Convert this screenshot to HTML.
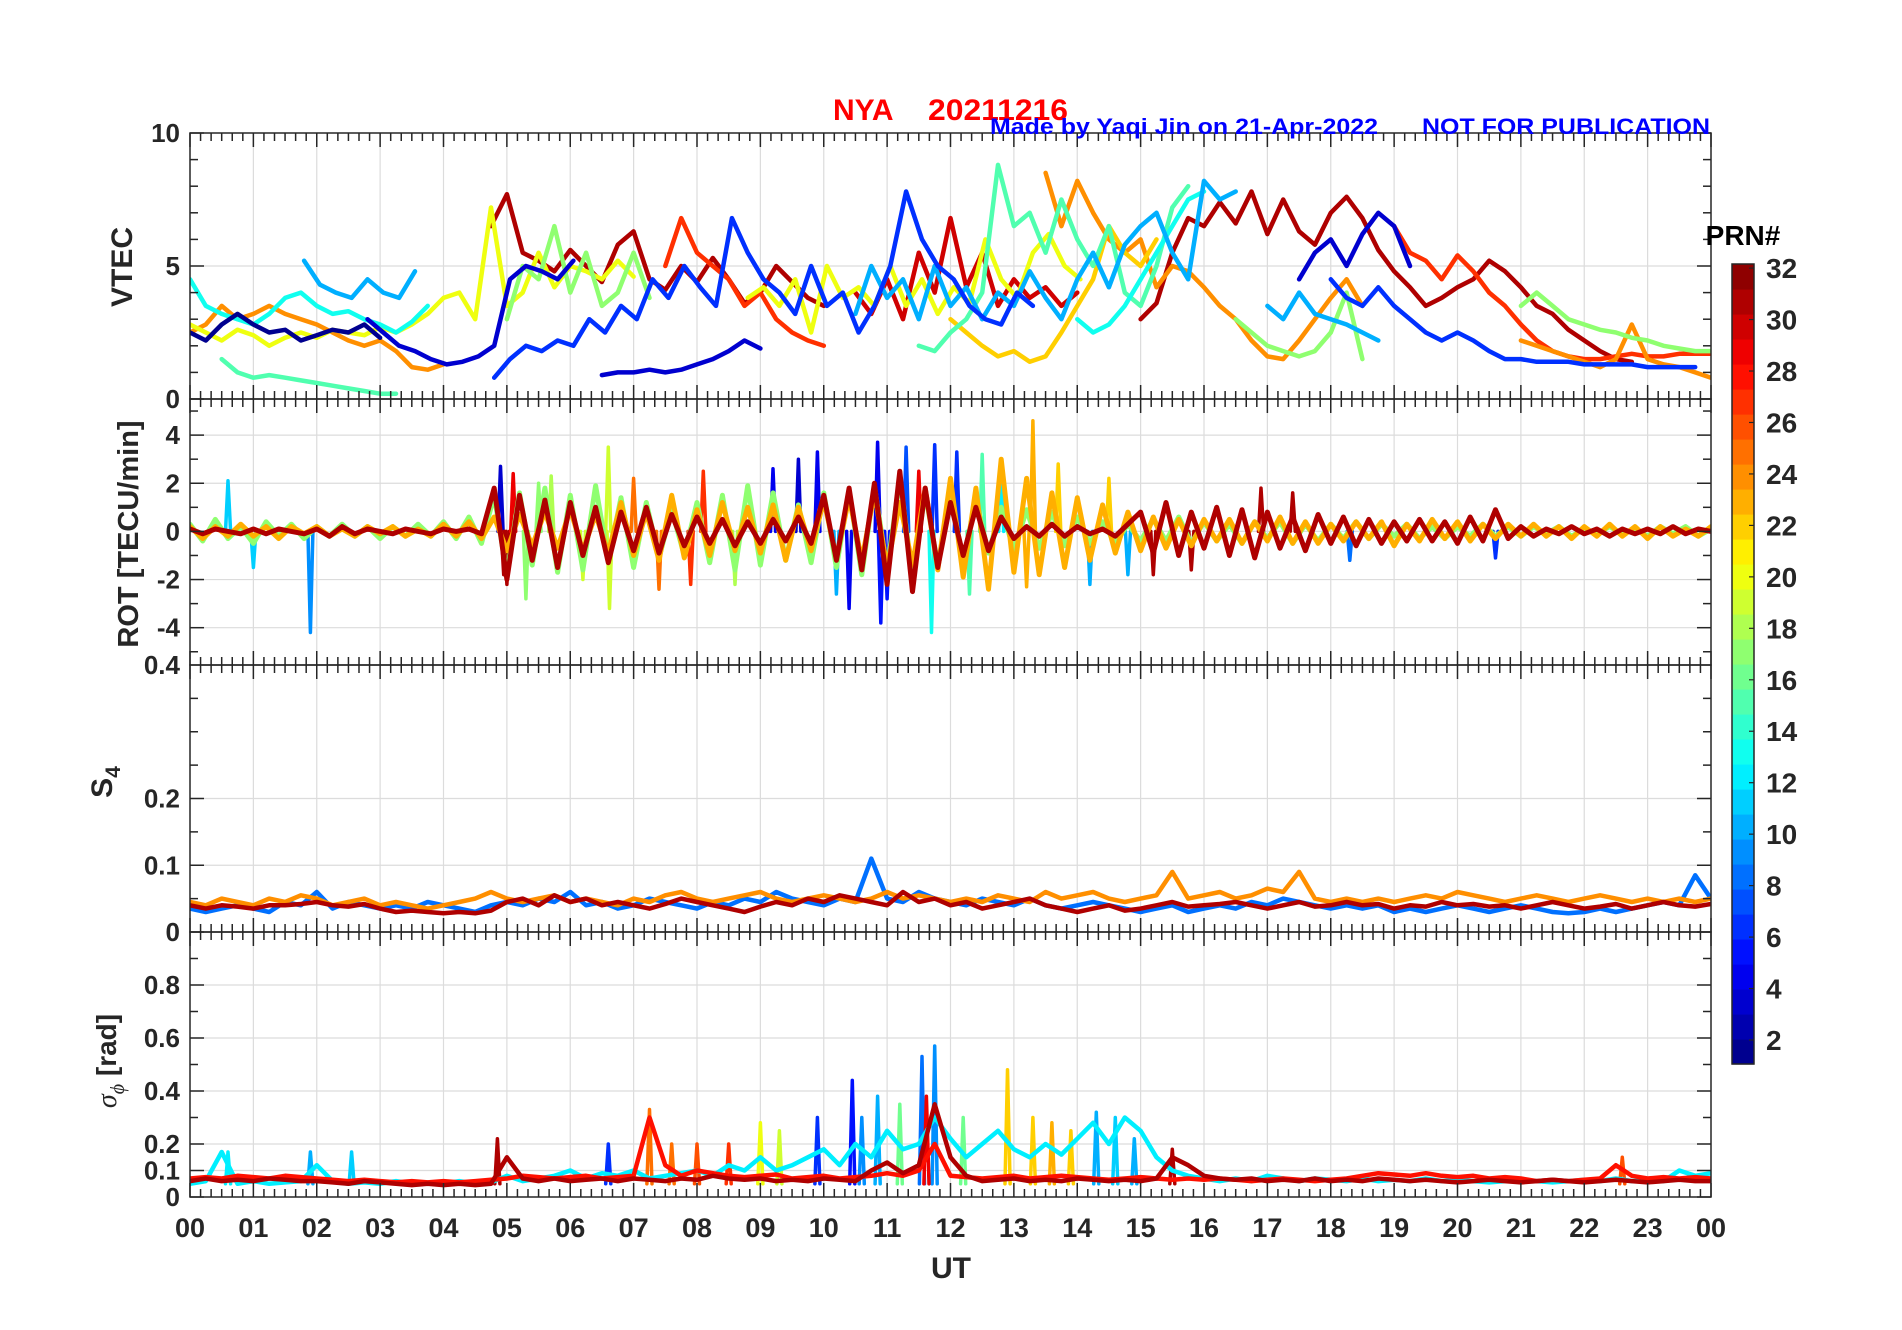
<!DOCTYPE html>
<html><head><meta charset="utf-8"><style>
html,body{margin:0;padding:0;background:#fff;}
svg{display:block;font-family:"Liberation Sans",Arial,sans-serif;}
</style></head><body>
<svg id="fig" width="1902" height="1330" xmlns="http://www.w3.org/2000/svg"></svg>
<script>
// ---------- data ----------
const hourLabels=["00","01","02","03","04","05","06","07","08","09","10","11","12","13","14","15","16","17","18","19","20","21","22","23","00"];
const vtecPrn=[31,31,30,27,27,24,24,24,22,20,20,17,17,17,15,15,13,13,10,10,10,6,6,3,3,3,1];
const vtecStart=[4.75,15.0,10.5,7.5,19.0,0,13.5,21.0,12.0,0,8.8,5.0,16.5,21.0,11.5,0.5,0,14.0,1.8,10.5,17.0,4.8,18.0,2.8,6.5,17.5,0];
const vtecVals=[
[6.5,7.7,5.5,5.2,4.8,5.6,5,4.4,5.8,6.3,4.5,4.1,5,4.4,5.3,4.5,3.6,4,5,4.4,3.8,3.5],
[3,3.6,5.5,6.8,6.5,7.4,6.6,7.8,6.2,7.5,6.3,5.8,7,7.6,6.8,5.6,4.8,4.2,3.5,3.8,4.2,4.5,5.2,4.8,4.2,3.5,3.2,2.6,2.2,1.8,1.5,1.4],
[4,3.2,4.5,3,5.5,4,6.8,4.2,5.5,3.5,4.5,3.8,4.2,3.5,4],
[5,6.8,5.5,5,4.5,3.5,4,3,2.5,2.2,2],
[6.5,5.5,5.2,4.5,5.4,4.8,4,3.5,2.8,2.2,1.8,1.6,1.5,1.5,1.6,1.7,1.6,1.6,1.7,1.7,1.7],
[2.5,2.8,3.5,3,3.2,3.5,3.2,3,2.8,2.5,2.2,2,2.2,1.8,1.2,1.1,1.3],
[8.5,6.5,8.2,7,6,5.5,6,4.2,5,4.8,4.2,3.5,3,2.2,1.6,1.5,2.2,3,3.8,4.5,3.5],
[2.2,2,1.8,1.6,1.4,1.2,1.5,2.8,1.5,1.3,1.2,1,0.8,0.7],
[3,2.5,2,1.6,1.8,1.4,1.6,2.5,3.5,4.5,6.5,5.5,5,6],
[2.8,2.5,2.2,2.6,2.4,2,2.3,2.5,2.3,2.6,2.5,2.4,2.7,2.5,2.8,3.2,3.8,4,3,7.2,3.5,4,5.5,4.2,5,4.8,4.5,5.2,4.6],
[3.8,4.2,3.5,4.5,2.5,5,3.8,4.2,3.5,5,3.5,4.5,3.2,4.2,3.6,6,4.5,3.8,5.5,6.2,5,4.5],
[3,5,4.5,6.5,4,5.5,3.5,4,5.5,3.8],
[3,2.5,2,1.8,1.6,1.8,2.5,4,1.5],
[3.5,4,3.5,3,2.8,2.6,2.5,2.3,2.2,2,1.9,1.8,1.8,2,2.3,2.8],
[2,1.8,2.5,3,4,8.8,6.5,7,5.5,7.5,6,5,6.5,4,3.5,5,7.2,8],
[1.5,1,0.8,0.9,0.8,0.7,0.6,0.5,0.4,0.3,0.2,0.2],
[4.5,3.5,3.2,3,2.8,3.2,3.8,4,3.5,3.2,3.3,3,2.8,2.5,2.9,3.5],
[3,2.5,2.8,3.5,4.5,5.5,6.5,7.5,7.8],
[5.2,4.3,4,3.8,4.5,4,3.8,4.8],
[3.2,5,3.8,4.5,3,5,3.5,4.2,3,4,3.5,4.8,3.8,3,4.5,5.5,4.2,5.8,6.5,7,5.5,4.5,8.2,7.5,7.8],
[3.5,3,4,3.2,3,2.8,2.5,2.2],
[0.8,1.5,2,1.8,2.2,2,3,2.5,3.5,3,4.5,3.8,5,4.2,3.5,6.8,5.5,4.5,4,3.2,5,3.5,4,2.5,3.5,5,7.8,6,5,4.5,3.5,3,2.8,4,3.5],
[4.5,3.8,3.5,4.2,3.5,3,2.5,2.2,2.5,2.2,1.8,1.5,1.5,1.4,1.4,1.4,1.3,1.3,1.3,1.3,1.2,1.2,1.2,1.2],
[3,2.5,2,1.8,1.5,1.3,1.4,1.6,2,4.5,5,4.8,4.5,5.2],
[0.9,1,1,1.1,1,1.1,1.3,1.5,1.8,2.2,1.9],
[4.5,5.5,6,5,6.2,7,6.5,5],
[2.5,2.2,2.8,3.2,2.8,2.5,2.6,2.2,2.4,2.6,2.5,2.8,2.3]];
const vtecStep=0.25;

const rotPrn=[17,23,31];
const rotStep=0.2;
const rotVals=[
[0.3,-0.4,0.5,-0.3,0.2,-0.5,0.4,-0.2,0.3,-0.3,0.2,-0.2,0.3,-0.2,0.2,-0.3,0.2,-0.2,0.3,-0.2,0.4,-0.3,0.6,-0.5,1.5,-1.8,1.6,-1.4,1.8,-1.7,1.5,-1.6,1.9,-1.2,1.4,-1.5,1.2,-1.1,0.9,-1,1.2,-1.3,1.5,-1.6,1.9,-1.4,1.6,-1.2,1.1,-1.3,1.6,-1.5,1.7,-1.8,1.9,-1.6,2.2,-1.9,1.6,-1.4,1.5,-1.2,1.3,-0.9,1,-0.8,0.9,-0.7,0.8,-0.6,0.6,-0.5,0.4,-0.5,0.3,-0.4,0.5,-0.4,0.6,-0.5,0.4,-0.4,0.3,-0.5,0.4,-0.3,0.4,-0.5,0.3,-0.4,0.3,-0.3,0.4,-0.3,0.3,-0.2,0.3,-0.3,0.2,-0.3,0.2,-0.2,0.3,-0.2,0.2,-0.2,0.2,-0.1,0.2,-0.2,0.1,-0.1,0.2,-0.1,0.1,-0.2,0.2,-0.1,0.2,-0.2,0.1],
[0.2,-0.3,0.2,-0.2,0.3,-0.2,0.2,-0.3,0.2,-0.1,0.2,-0.2,0.1,-0.2,0.2,-0.1,0.2,-0.2,0.1,-0.2,0.3,-0.2,0.4,-0.3,0.6,-0.8,0.7,-0.6,0.8,-0.7,0.9,-0.8,0.7,-0.9,1.2,-1,0.8,-1.2,1.5,-1.1,0.9,-1,1.2,-0.8,1,-0.9,1.1,-1.2,1,-0.8,1.3,-1.1,1.4,-1.2,1.6,-1.5,1.2,-1.4,1.8,-1.6,2.2,-1.9,1.8,-2.4,3,-1.7,2.2,-1.8,1.6,-1.5,1.4,-1.2,1.1,-0.9,0.8,-0.8,0.6,-0.7,0.5,-0.6,0.5,-0.4,0.5,-0.5,0.4,-0.4,0.6,-0.5,0.4,-0.5,0.3,-0.4,0.4,-0.3,0.4,-0.6,0.3,-0.4,0.5,-0.3,0.4,-0.4,0.3,-0.3,0.3,-0.2,0.3,-0.2,0.2,-0.3,0.2,-0.2,0.3,-0.2,0.2,-0.3,0.2,-0.2,0.1,-0.2,0.2],
[0.1,-0.1,0.1,0,-0.1,0.1,-0.1,0.1,0,-0.1,0.1,-0.2,0.2,-0.1,0.1,0,-0.1,0.1,0,-0.1,0.1,0,0.1,-0.1,1.8,-2,1.5,-1.2,1.3,-1.5,1.2,-1,1,-1.3,0.8,-0.8,1,-0.9,0.7,-0.6,0.6,-0.5,0.5,-0.6,0.4,-0.5,0.5,-0.4,0.6,-0.5,1.5,-1.2,1.8,-1.6,2,-2.2,2.5,-2.5,1.8,-1.5,1.2,-1,1,-0.8,0.6,-0.3,0.2,-0.2,0.3,-0.2,0.2,-0.1,0.1,-0.2,0.3,0.8,-0.9,1.2,-1,0.8,-0.7,1,-1,0.9,-1.1,0.8,-0.7,0.6,-0.8,0.7,-0.5,0.6,-0.6,0.5,-0.5,0.4,-0.4,0.5,-0.4,0.4,-0.5,0.6,-0.4,0.9,-0.3,0.2,-0.2,0.1,-0.1,0.2,-0.1,0.1,-0.2,0.1,-0.1,0.1,-0.1,0.2,-0.1,0.1,0]];
const rotSpikeT=[1.9,4.9,10.85,10.9,11.7,11.75,13.3,12.1,9.9,6.6,6.62,7.4,5.3,10.4,12.5,8.1,14.2,14.8,13.2,9.6,10.2,11.3,12.8,7.9,0.6,1.0,5.7,15.8,16.9,20.6,5.0,5.5,6.2,7.0,8.6,9.2,11.0,11.5,12.3,13.7,14.5,15.2,17.4,18.3,4.95,5.1];
const rotSpikeV=[-4.2,2.7,3.7,-3.8,-4.2,3.6,4.6,3.3,3.3,3.5,-3.2,-2.4,-2.8,-3.2,3.2,2.5,-2.2,-1.8,-2.3,3,-2.6,3.5,2.8,-2.2,2.1,-1.5,2.3,-1.6,1.8,-1.1,-2.2,2,-2,2.2,-2.2,2.6,-2.8,2.5,-2.6,2.8,2.2,-1.8,1.6,-1.2,-1.8,2.4];
const rotSpikePrn=[9,3,4,5,13,6,23,6,4,19,19,25,17,4,15,27,10,10,23,3,10,7,12,27,11,11,18,31,31,6,31,17,19,25,18,4,5,29,15,22,22,31,31,8,31,29];

const s4Prn=[31,24,8];
const s4Step=0.25;
const s4Vals=[
[0.04,0.035,0.04,0.038,0.035,0.04,0.04,0.042,0.045,0.04,0.038,0.042,0.035,0.03,0.032,0.03,0.028,0.03,0.028,0.032,0.045,0.05,0.04,0.055,0.045,0.05,0.04,0.045,0.04,0.035,0.042,0.05,0.045,0.04,0.035,0.03,0.038,0.045,0.04,0.05,0.045,0.055,0.05,0.045,0.04,0.06,0.045,0.05,0.04,0.045,0.035,0.04,0.045,0.05,0.04,0.035,0.03,0.035,0.04,0.032,0.035,0.04,0.045,0.038,0.04,0.042,0.045,0.04,0.035,0.04,0.045,0.038,0.04,0.045,0.04,0.042,0.035,0.04,0.038,0.045,0.04,0.042,0.038,0.04,0.035,0.04,0.045,0.04,0.035,0.038,0.042,0.035,0.04,0.045,0.04,0.038,0.042],
[0.045,0.04,0.05,0.045,0.04,0.05,0.045,0.055,0.05,0.04,0.045,0.05,0.04,0.045,0.04,0.035,0.04,0.045,0.05,0.06,0.05,0.045,0.05,0.055,0.045,0.05,0.045,0.04,0.05,0.045,0.055,0.06,0.05,0.045,0.05,0.055,0.06,0.05,0.045,0.05,0.055,0.05,0.045,0.05,0.06,0.05,0.055,0.05,0.045,0.05,0.045,0.055,0.05,0.045,0.06,0.05,0.055,0.06,0.05,0.045,0.05,0.055,0.09,0.05,0.055,0.06,0.05,0.055,0.065,0.06,0.09,0.05,0.045,0.05,0.045,0.05,0.045,0.05,0.055,0.05,0.06,0.055,0.05,0.045,0.05,0.055,0.05,0.045,0.05,0.055,0.05,0.045,0.05,0.045,0.05,0.045,0.05],
[0.035,0.03,0.035,0.04,0.035,0.03,0.045,0.04,0.06,0.035,0.045,0.04,0.035,0.04,0.035,0.045,0.04,0.035,0.03,0.04,0.045,0.04,0.05,0.045,0.06,0.04,0.045,0.035,0.04,0.05,0.045,0.04,0.035,0.045,0.04,0.05,0.045,0.06,0.05,0.045,0.04,0.05,0.045,0.11,0.05,0.045,0.06,0.05,0.045,0.04,0.05,0.045,0.04,0.05,0.04,0.035,0.04,0.045,0.04,0.035,0.03,0.035,0.04,0.03,0.035,0.04,0.035,0.045,0.04,0.05,0.045,0.04,0.035,0.04,0.035,0.04,0.03,0.035,0.03,0.035,0.04,0.035,0.03,0.035,0.04,0.035,0.03,0.028,0.03,0.035,0.03,0.035,0.04,0.045,0.04,0.085,0.05]];

const sigPrn=[31,28,12];
const sigStep=0.25;
const sigVals=[
[0.06,0.07,0.06,0.065,0.06,0.07,0.065,0.06,0.06,0.055,0.05,0.06,0.055,0.05,0.045,0.05,0.045,0.05,0.045,0.05,0.15,0.07,0.06,0.07,0.06,0.065,0.07,0.06,0.07,0.065,0.06,0.07,0.065,0.08,0.07,0.065,0.07,0.06,0.065,0.06,0.07,0.065,0.06,0.1,0.13,0.09,0.12,0.35,0.15,0.08,0.06,0.065,0.07,0.06,0.065,0.06,0.07,0.065,0.06,0.065,0.06,0.07,0.15,0.12,0.08,0.07,0.065,0.07,0.06,0.065,0.06,0.07,0.06,0.065,0.06,0.07,0.065,0.06,0.065,0.06,0.055,0.06,0.065,0.06,0.055,0.06,0.065,0.06,0.055,0.06,0.065,0.06,0.055,0.06,0.065,0.06,0.06],
[0.07,0.075,0.07,0.08,0.075,0.07,0.08,0.075,0.07,0.065,0.06,0.065,0.06,0.055,0.06,0.055,0.06,0.055,0.06,0.065,0.07,0.08,0.075,0.07,0.075,0.08,0.07,0.075,0.08,0.3,0.12,0.08,0.1,0.09,0.08,0.075,0.08,0.085,0.07,0.075,0.08,0.07,0.075,0.08,0.09,0.08,0.1,0.2,0.08,0.075,0.07,0.075,0.08,0.07,0.075,0.08,0.075,0.07,0.065,0.07,0.075,0.07,0.065,0.07,0.065,0.07,0.065,0.06,0.065,0.07,0.065,0.06,0.065,0.07,0.08,0.09,0.085,0.08,0.09,0.08,0.075,0.08,0.07,0.075,0.07,0.06,0.065,0.06,0.065,0.07,0.12,0.08,0.07,0.075,0.07,0.075,0.07],
[0.05,0.06,0.17,0.05,0.06,0.05,0.055,0.06,0.12,0.06,0.05,0.055,0.05,0.06,0.05,0.055,0.05,0.06,0.05,0.055,0.08,0.06,0.07,0.08,0.1,0.07,0.09,0.08,0.1,0.07,0.08,0.09,0.1,0.08,0.12,0.1,0.15,0.1,0.12,0.15,0.18,0.12,0.2,0.15,0.25,0.18,0.2,0.3,0.22,0.15,0.2,0.25,0.18,0.15,0.2,0.16,0.22,0.28,0.2,0.3,0.25,0.15,0.1,0.08,0.07,0.06,0.07,0.06,0.08,0.07,0.06,0.07,0.065,0.06,0.07,0.06,0.065,0.06,0.07,0.06,0.065,0.06,0.055,0.06,0.065,0.06,0.055,0.06,0.065,0.06,0.07,0.06,0.065,0.06,0.1,0.08,0.09]];
const sigSpikeT=[10.45,11.55,11.75,12.9,7.25,11.62,4.85,10.85,13.3,14.3,14.6,9.0,9.9,12.2,8.5,1.9,2.55,22.6,0.6,7.6,13.6,15.5,11.2,9.3,13.9,14.9,10.6,8.0,6.6];
const sigSpikeV=[0.44,0.53,0.57,0.48,0.33,0.38,0.22,0.38,0.3,0.32,0.3,0.28,0.3,0.3,0.2,0.17,0.17,0.15,0.17,0.2,0.28,0.18,0.35,0.25,0.25,0.22,0.3,0.2,0.2];
const sigSpikePrn=[5,8,9,22,25,29,31,10,22,10,11,20,6,16,27,10,11,26,12,25,23,31,16,19,22,10,9,26,6];

// ---------- layout ----------
const NS="http://www.w3.org/2000/svg";
const svg=document.getElementById('fig');
const L=190,R=1711;
const panels=[
 {name:'vtec',top:133,bot:399,min:0,max:10,ticks:[0,5,10],labels:["0","5","10"],minor:[1,2,3,4,6,7,8,9]},
 {name:'rot',top:399,bot:665,min:-5.55,max:5.5,ticks:[-4,-2,0,2,4],labels:["-4","-2","0","2","4"],minor:[-5,-3,-1,1,3,5]},
 {name:'s4',top:665,bot:932,min:0,max:0.4,ticks:[0,0.1,0.2],labels:["0","0.1","0.2"],minor:[0.05,0.15,0.25,0.3,0.35]},
 {name:'sigma',top:932,bot:1197,min:0,max:1,ticks:[0,0.1,0.2,0.4,0.6,0.8],labels:["0","0.1","0.2","0.4","0.6","0.8"],minor:[0.3,0.5,0.7,0.9]}];
function xs(t){return L+(R-L)*t/24;}
function ys(p,v){return p.bot-(p.bot-p.top)*(v-p.min)/(p.max-p.min);}
function jet(prn){
  const v=(prn-0.5)/32;
  const r=Math.min(1,Math.max(0,1.5-Math.abs(4*v-3)));
  const g=Math.min(1,Math.max(0,1.5-Math.abs(4*v-2)));
  const b=Math.min(1,Math.max(0,1.5-Math.abs(4*v-1)));
  return `rgb(${Math.round(r*255)},${Math.round(g*255)},${Math.round(b*255)})`;
}
function el(tag,attrs,parent){const e=document.createElementNS(NS,tag);for(const k in attrs)e.setAttribute(k,attrs[k]);(parent||svg).appendChild(e);return e;}
function txt(x,y,s,attrs,parent){const e=el('text',Object.assign({x:x,y:y,'font-weight':'bold','fill':'#262626'},attrs||{}),parent);e.textContent=s;return e;}

panels.forEach(p=>{
  const g=el('g',{});
  
  
  for(let h=1;h<24;h++) el('line',{x1:xs(h),x2:xs(h),y1:p.top,y2:p.bot,stroke:'#dcdcdc','stroke-width':1.2},g);
  p.ticks.forEach(v=>{const y=ys(p,v); if(y>p.top+1&&y<p.bot-1) el('line',{x1:L,x2:R,y1:y,y2:y,stroke:'#dcdcdc','stroke-width':1.2},g);});
});

function poly(pts,color,w,parent){
  return el('polyline',{points:pts.map(q=>q[0].toFixed(1)+','+q[1].toFixed(1)).join(' '),fill:'none',stroke:color,'stroke-width':w,'stroke-linejoin':'round','stroke-linecap':'round'},parent);
}
const defs=el('defs',{});
panels.forEach((p,i)=>{const c=el('clipPath',{id:'clip'+i},defs);el('rect',{x:L,y:p.top,width:R-L,height:p.bot-p.top},c);});

const gV=el('g',{'clip-path':'url(#clip0)'});


vtecVals.forEach((vals,i)=>{
  const p=panels[0];
  const line=poly(vals.map((v,j)=>[xs(vtecStart[i]+j*vtecStep),ys(p,v)]),jet(vtecPrn[i]),4.5,gV);
  
  
});
const gR=el('g',{'clip-path':'url(#clip1)'});


function spikes(p,T,V,P,g,w){
  T.forEach((t,i)=>{
    const base=p.min<0?0:0.05;
    const s=poly([[xs(t-0.04),ys(p,base)],[xs(t),ys(p,V[i])],[xs(t+0.04),ys(p,base)]],jet(P[i]),w,g);
    
    
  });
}
spikes(panels[1],rotSpikeT,rotSpikeV,rotSpikePrn,gR,3.5);
rotVals.forEach((vals,i)=>{
  const line=poly(vals.map((v,j)=>[xs(j*rotStep),ys(panels[1],v)]),jet(rotPrn[i]),5,gR);
  
  
});
const gS=el('g',{'clip-path':'url(#clip2)'});


[2,1,0].forEach(i=>{
  const line=poly(s4Vals[i].map((v,j)=>[xs(j*s4Step),ys(panels[2],v)]),jet(s4Prn[i]),4.5,gS);
  
  
});
const gP=el('g',{'clip-path':'url(#clip3)'});


spikes(panels[3],sigSpikeT,sigSpikeV,sigSpikePrn,gP,3.5);
[2,1,0].forEach(i=>{
  const line=poly(sigVals[i].map((v,j)=>[xs(j*sigStep),ys(panels[3],v)]),jet(sigPrn[i]),4.5,gP);
  
  
});

panels.forEach((p,pi)=>{
  const g=el('g',{});
  
  
  el('rect',{x:L,y:p.top,width:R-L,height:p.bot-p.top,fill:'none',stroke:'#262626','stroke-width':1.5},g);
  for(let k=0;k<=144;k++){
    const x=xs(k/6), len=(k%6===0)?14:8;
    el('line',{x1:x,x2:x,y1:p.bot,y2:p.bot-len,stroke:'#262626','stroke-width':1.5},g);
    el('line',{x1:x,x2:x,y1:p.top,y2:p.top+len,stroke:'#262626','stroke-width':1.5},g);
  }
  p.ticks.concat(p.minor).forEach((v,k)=>{
    const y=ys(p,v), len=k<p.ticks.length?14:8;
    el('line',{x1:L,x2:L+len,y1:y,y2:y,stroke:'#262626','stroke-width':1.5},g);
    el('line',{x1:R,x2:R-len,y1:y,y2:y,stroke:'#262626','stroke-width':1.5},g);
  });
  p.ticks.forEach((v,k)=>{
    const t=txt(L-10,ys(p,v)+9,p.labels[k],{'text-anchor':'end','font-size':26},g);
    
    
  });
});
{const t=txt(L-10,ys(panels[2],0.4)+9,"0.4",{'text-anchor':'end','font-size':26});
 
 }
hourLabels.forEach((s,i)=>{
  const t=txt(xs(i),1237,s,{'text-anchor':'middle','font-size':27});
  
  
});
</script>
<svg width="1902" height="1330" style="position:absolute;left:0;top:0" xmlns="http://www.w3.org/2000/svg">
<g font-family="Liberation Sans, Arial, sans-serif" font-weight="bold">
<text x="951" y="1278" font-size="30" fill="#262626" text-anchor="middle">UT</text>
<text x="833" y="120" font-size="30" fill="#ff0000">NYA</text>
<text x="928" y="120" font-size="30" fill="#ff0000" textLength="140" lengthAdjust="spacingAndGlyphs">20211216</text>
<text x="990" y="134" font-size="22" fill="#0000ff" textLength="388" lengthAdjust="spacingAndGlyphs">Made by Yaqi Jin on 21-Apr-2022</text>
<text x="1422" y="134" font-size="22" fill="#0000ff" textLength="288" lengthAdjust="spacingAndGlyphs">NOT FOR PUBLICATION</text>
<text transform="translate(132,267) rotate(-90)" font-size="30" fill="#262626" text-anchor="middle">VTEC</text>
<text transform="translate(138,534) rotate(-90)" font-size="29" fill="#262626" text-anchor="middle">ROT [TECU/min]</text>
<text transform="translate(112,782) rotate(-90)" font-size="30" fill="#262626" text-anchor="middle">S<tspan font-size="21" dy="8">4</tspan></text>
<text transform="translate(116,1061) rotate(-90)" font-size="28" fill="#262626" text-anchor="middle"><tspan font-style="italic" font-weight="normal" font-family="Liberation Serif, serif">σ</tspan><tspan font-size="20" dy="8" font-style="italic" font-weight="normal" font-family="Liberation Serif, serif">ϕ</tspan><tspan dy="-8"> [rad]</tspan></text>
<text x="1743" y="245" font-size="28" fill="#000" text-anchor="middle">PRN#</text>
</g>
<g id="cbar"></g>
</svg>
<script>
(function(){
  const NS="http://www.w3.org/2000/svg";
  const g=document.getElementById('cbar');
  const x0=1732,w=22,top=264,bot=1064,n=32;
  function jet(prn){const v=(prn-0.5)/32;
    const r=Math.min(1,Math.max(0,1.5-Math.abs(4*v-3))),gg=Math.min(1,Math.max(0,1.5-Math.abs(4*v-2))),b=Math.min(1,Math.max(0,1.5-Math.abs(4*v-1)));
    return `rgb(${Math.round(r*255)},${Math.round(gg*255)},${Math.round(b*255)})`;}
  const h=(bot-top)/n;
  for(let i=1;i<=n;i++){
    const r=document.createElementNS(NS,'rect');
    r.setAttribute('x',x0);r.setAttribute('y',bot-i*h);r.setAttribute('width',w);r.setAttribute('height',h+0.6);r.setAttribute('fill',jet(i));
    
    
    g.appendChild(r);
  }
  const f=document.createElementNS(NS,'rect');
  f.setAttribute('x',x0);f.setAttribute('y',top);f.setAttribute('width',w);f.setAttribute('height',bot-top);f.setAttribute('fill','none');f.setAttribute('stroke','#262626');f.setAttribute('stroke-width','1.5');
  g.appendChild(f);
  for(let v=2;v<=32;v+=2){
    const y=1040-(v-2)*25.73;
    const l=document.createElementNS(NS,'line');
    l.setAttribute('x1',x0+w-5);l.setAttribute('x2',x0+w);l.setAttribute('y1',y);l.setAttribute('y2',y);l.setAttribute('stroke','#262626');l.setAttribute('stroke-width','1.2');
    g.appendChild(l);
    const t=document.createElementNS(NS,'text');
    t.setAttribute('x',x0+w+12);t.setAttribute('y',y+10);t.setAttribute('font-size','28');t.setAttribute('font-weight','bold');t.setAttribute('fill','#262626');
    t.setAttribute('font-family','Liberation Sans, Arial, sans-serif');
    
    
    t.textContent=String(v);
    g.appendChild(t);
  }
})();
</script>
</body></html>
